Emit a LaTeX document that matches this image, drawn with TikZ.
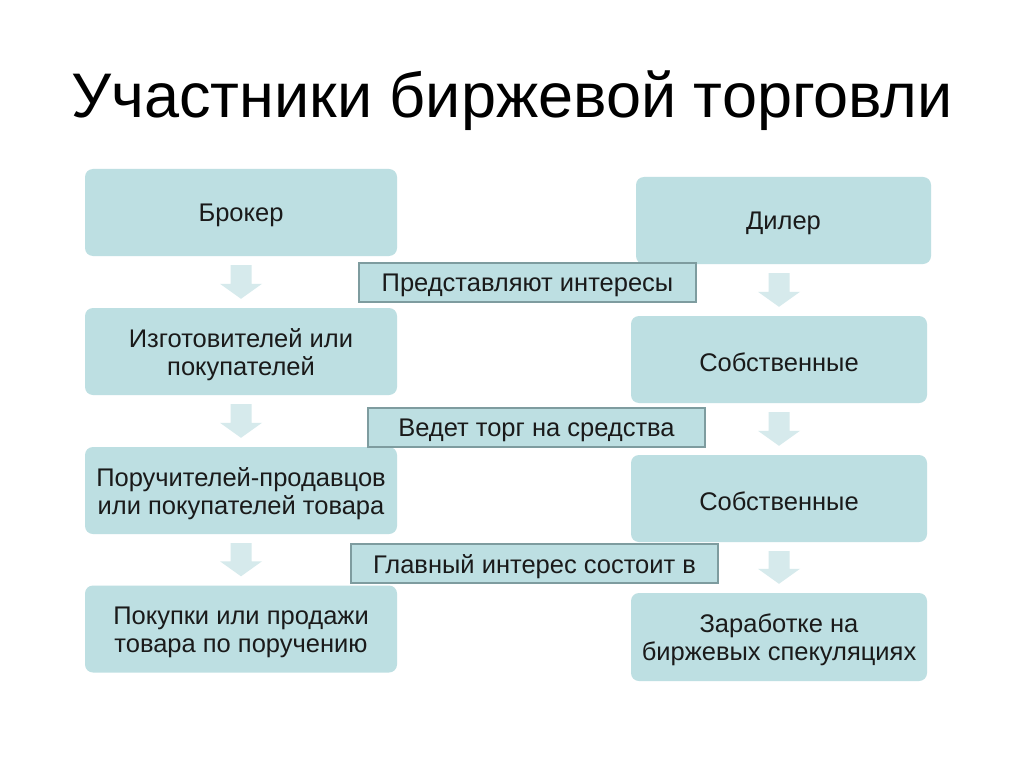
\documentclass[tikz,border=0pt]{standalone}
\usepackage{fontspec}
\setmainfont{Liberation Sans}
\usetikzlibrary{calc}
\definecolor{boxfill}{HTML}{BDDFE2}
\definecolor{arrowfillc}{HTML}{D6EAEC}
\definecolor{labelborder}{HTML}{7E9C9F}
\definecolor{txt}{HTML}{1A1A1A}
\tikzset{
  boxtext/.style={align=center, text=txt, font=\fontsize{25.5}{28}\selectfont,
    inner sep=0pt, yshift=-3pt},
  box/.style={fill=boxfill, rounded corners=8pt, inner sep=0pt},
  lbox/.style={fill=boxfill, draw=labelborder, line width=2.5pt, inner sep=0pt,
    minimum height=39pt},
  arrowfill/.style={fill=arrowfillc}
}
\newcommand\blockarr[2]{%
  \path[arrowfill] let \p1=(#1.south), \p2=(#2.north) in
    (\x2-10.5pt,\y1-9pt) -- (\x2+10.5pt,\y1-9pt) -- (\x2+10.5pt,\y2+24pt) --
    (\x2+21pt,\y2+24pt) -- (\x2,\y2+9pt) -- (\x2-21pt,\y2+24pt) --
    (\x2-10.5pt,\y2+24pt) -- cycle;}
\begin{document}
\begin{tikzpicture}[x=1pt,y=-1pt]
\useasboundingbox[fill=white] (0,0) rectangle (1024,767);
\node[font=\fontsize{63}{66}\selectfont, text=black, anchor=base] (title) at (512,118) {Участники биржевой торговли};
% left column
\node[box, minimum width=312pt, minimum height=87pt,
  label={[boxtext, name=l1t]center:Брокер}] (l1) at (241,212.5) {};
\node[box, minimum width=312pt, minimum height=87pt,
  label={[boxtext, name=l2t]center:{Изготовителей или\\покупателей}}] (l2) at (241,351.5) {};
\node[box, minimum width=312pt, minimum height=87pt,
  label={[boxtext, name=l3t]center:{Поручителей-продавцов\\или покупателей товара}}] (l3) at (241,490.5) {};
\node[box, minimum width=312pt, minimum height=87pt,
  label={[boxtext, name=l4t]center:{Покупки или продажи\\товара по поручению}}] (l4) at (241,629) {};
% right column
\node[box, minimum width=295pt, minimum height=87pt,
  label={[boxtext, name=r1t]center:Дилер}] (r1) at (783.5,220.5) {};
\node[box, minimum width=296pt, minimum height=87pt,
  label={[boxtext, name=r2t]center:Собственные}] (r2) at (779,359.5) {};
\node[box, minimum width=296pt, minimum height=87pt,
  label={[boxtext, name=r3t]center:Собственные}] (r3) at (779,498.5) {};
\node[box, minimum width=296pt, minimum height=88pt,
  label={[boxtext, name=r4t]center:{Заработке на\\биржевых спекуляциях}}] (r4) at (779,637) {};
% arrows
\blockarr{l1}{l2}
\blockarr{l2}{l3}
\blockarr{l3}{l4}
\blockarr{r1}{r2}
\blockarr{r2}{r3}
\blockarr{r3}{r4}
% labels
\node[lbox, minimum width=337pt,
  label={[boxtext, name=m1t]center:Представляют интересы}] (m1) at (527.5,282.5) {};
\node[lbox, minimum width=337pt,
  label={[boxtext, name=m2t]center:Ведет торг на средства}] (m2) at (536.5,427.5) {};
\node[lbox, minimum width=367pt,
  label={[boxtext, name=m3t]center:Главный интерес состоит в}] (m3) at (534.5,563.5) {};
\end{tikzpicture}
\end{document}
